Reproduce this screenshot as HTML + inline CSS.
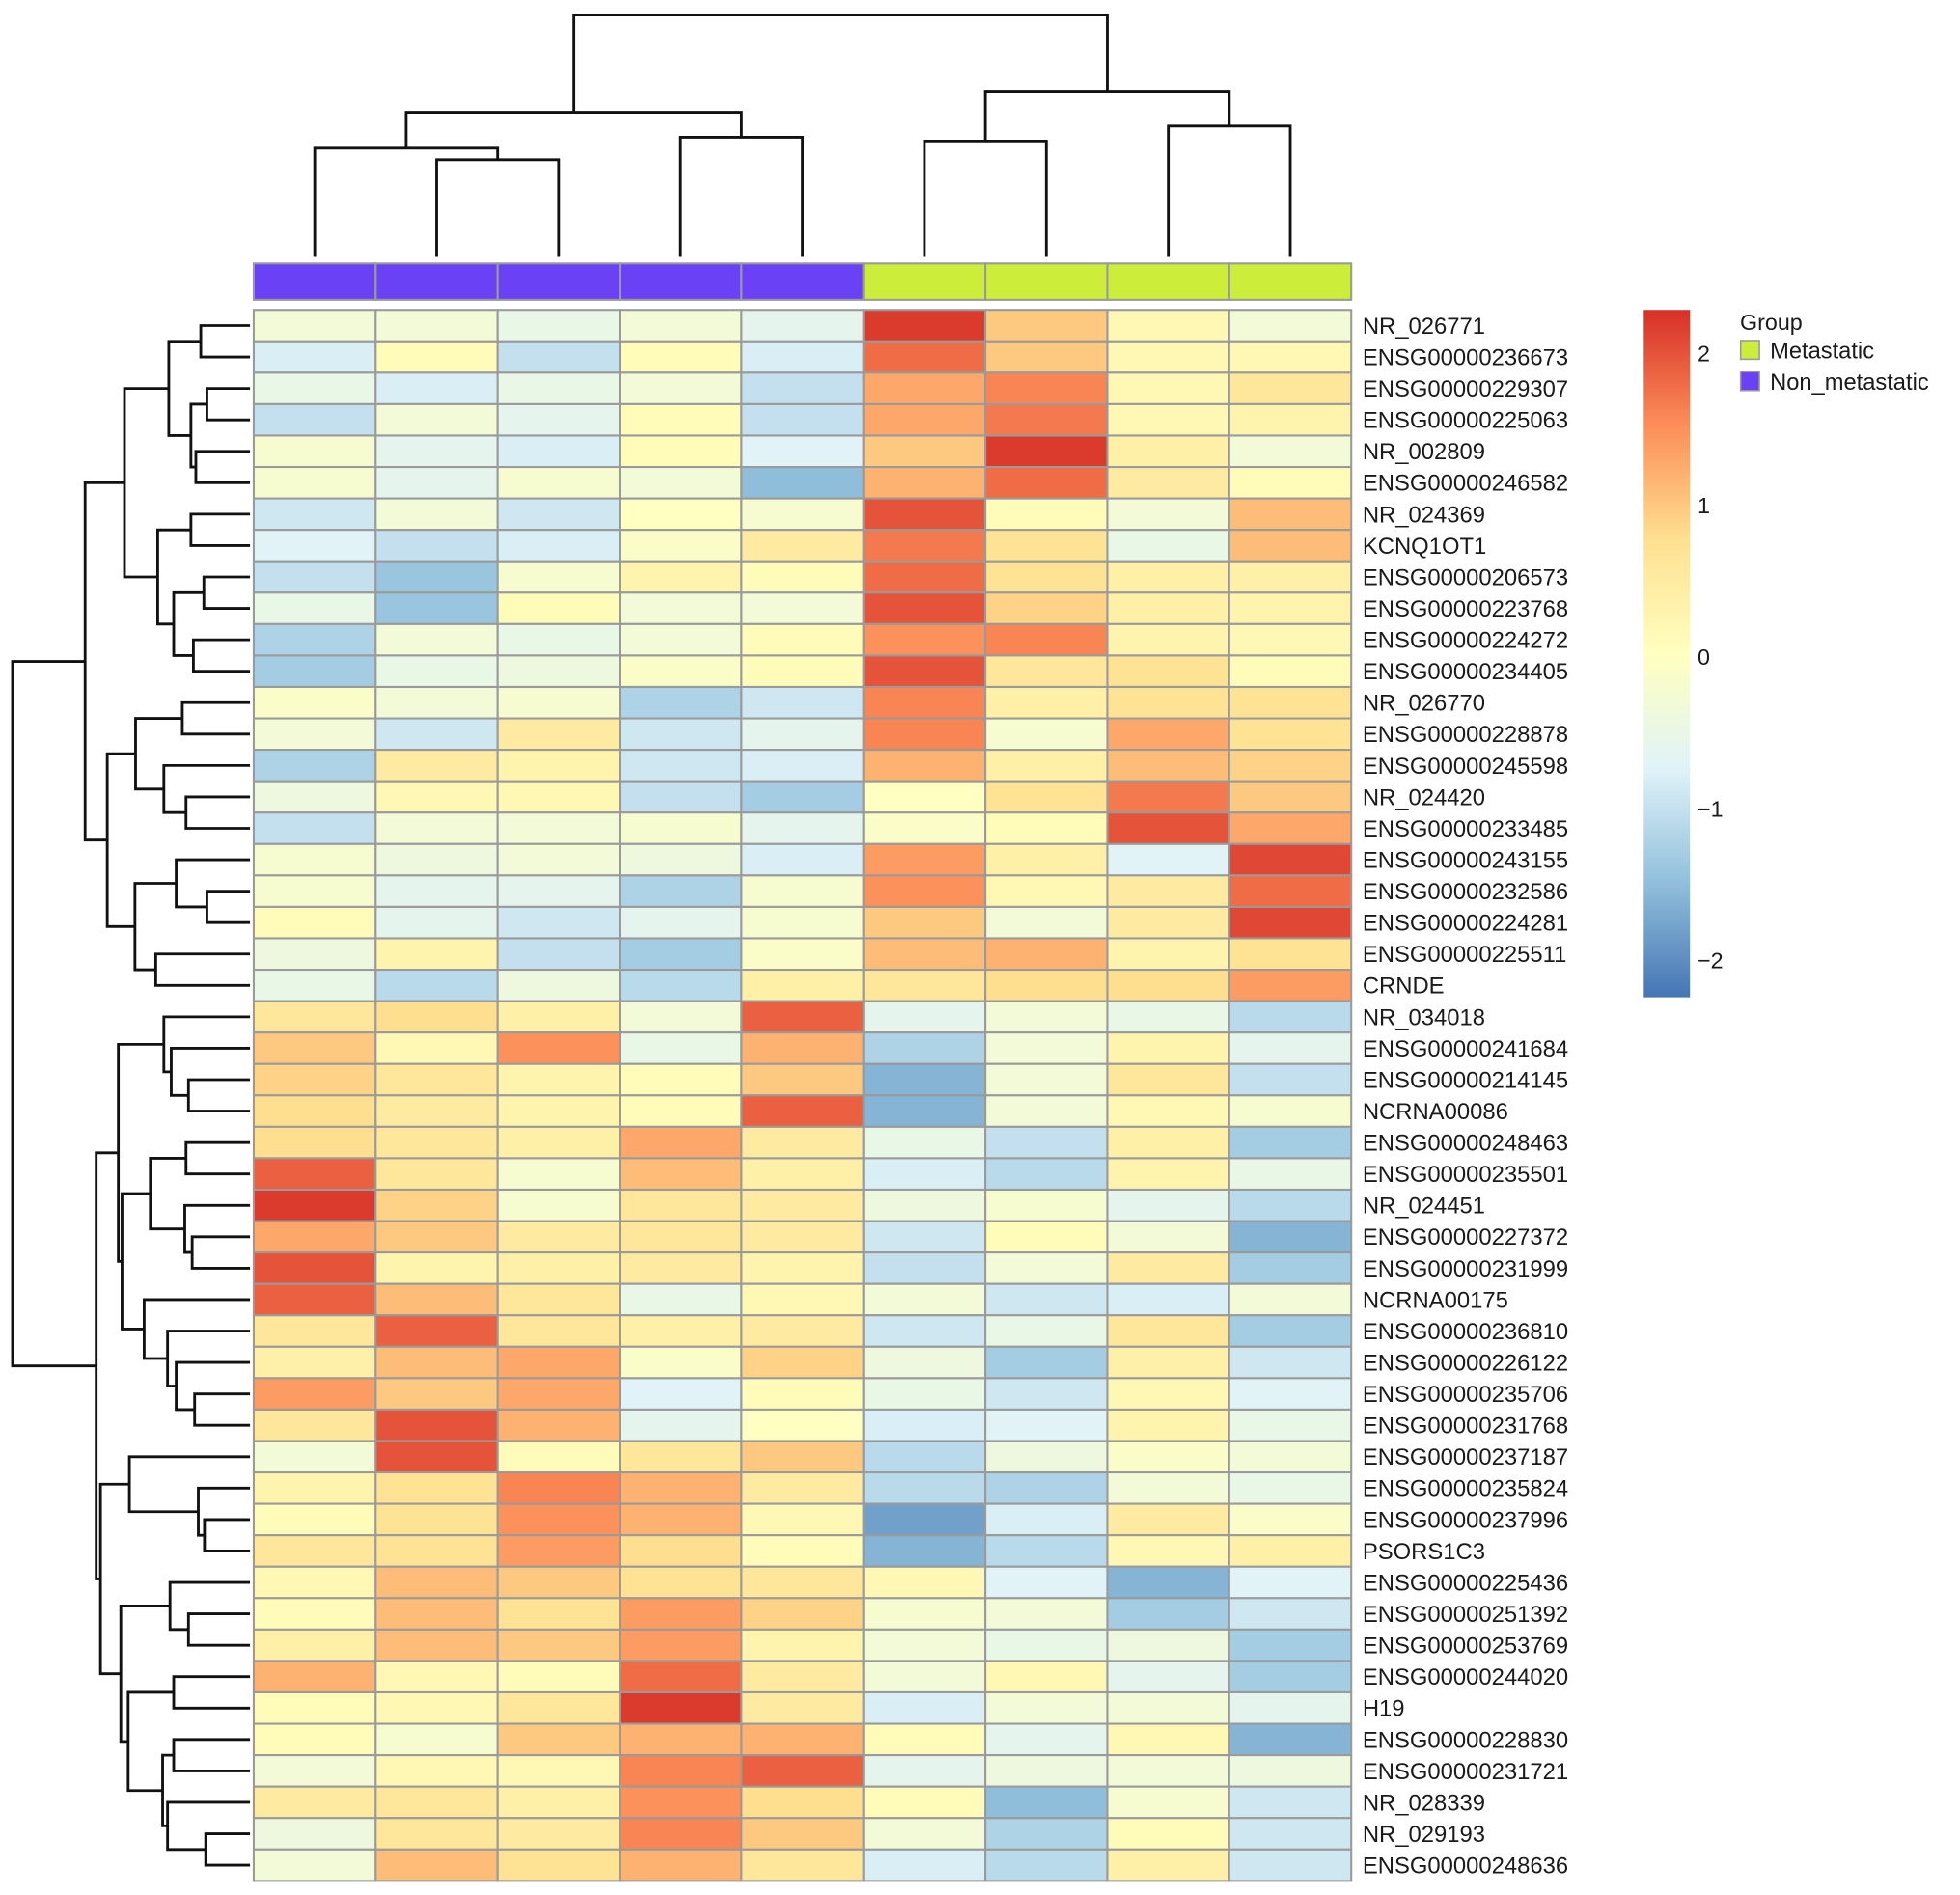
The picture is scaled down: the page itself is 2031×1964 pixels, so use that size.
<!DOCTYPE html>
<html><head><meta charset="utf-8"><title>Heatmap</title>
<style>html,body{margin:0;padding:0;background:#fff;}svg{display:block;}text{font-family:"Liberation Sans",Arial,sans-serif;fill:#1a1a1a;}</style>
</head><body>
<svg id="chart" width="2031" height="1964" viewBox="0 0 1568 1516.3" xmlns="http://www.w3.org/2000/svg">
<defs><linearGradient id="cbar" x1="0" y1="1" x2="0" y2="0">
<stop offset="0" stop-color="#4575B4"/><stop offset="0.1667" stop-color="#91BFDB"/><stop offset="0.3333" stop-color="#E0F3F8"/><stop offset="0.5" stop-color="#FFFFBF"/><stop offset="0.6667" stop-color="#FEE090"/><stop offset="0.8333" stop-color="#FC8D59"/><stop offset="1" stop-color="#D73027"/></linearGradient></defs>
<g id="rowdend"></g>
<g id="coldend"></g>
<g id="annot"></g>
<g id="cells"></g>
<g id="labels"></g>
<g>
<rect x="1315" y="248" width="37" height="550" fill="url(#cbar)"/>
<g id="cticks"></g>
</g>
<g>
<text x="1392" y="264" font-size="18">Group</text>
<rect x="1392.5" y="272.5" width="15" height="15" fill="#CCEE3A" stroke="#999" stroke-width="1.2"/>
<text x="1416" y="287" font-size="18.3">Metastatic</text>
<rect x="1392.5" y="297.5" width="15" height="15" fill="#6B41F5" stroke="#999" stroke-width="1.2"/>
<text x="1416" y="312" font-size="18.3">Non_metastatic</text>
</g>
</svg>
<script>
const rowLabels = ["NR_026771","ENSG00000236673","ENSG00000229307","ENSG00000225063","NR_002809","ENSG00000246582","NR_024369","KCNQ1OT1","ENSG00000206573","ENSG00000223768","ENSG00000224272","ENSG00000234405","NR_026770","ENSG00000228878","ENSG00000245598","NR_024420","ENSG00000233485","ENSG00000243155","ENSG00000232586","ENSG00000224281","ENSG00000225511","CRNDE","NR_034018","ENSG00000241684","ENSG00000214145","NCRNA00086","ENSG00000248463","ENSG00000235501","NR_024451","ENSG00000227372","ENSG00000231999","NCRNA00175","ENSG00000236810","ENSG00000226122","ENSG00000235706","ENSG00000231768","ENSG00000237187","ENSG00000235824","ENSG00000237996","PSORS1C3","ENSG00000225436","ENSG00000251392","ENSG00000253769","ENSG00000244020","H19","ENSG00000228830","ENSG00000231721","NR_028339","NR_029193","ENSG00000248636"];
const colGroups = ["Non_metastatic","Non_metastatic","Non_metastatic","Non_metastatic","Non_metastatic","Metastatic","Metastatic","Metastatic","Metastatic"];
const values = [
[-0.3,-0.3,-0.5,-0.3,-0.6,2.2,1.0,0.2,-0.3],
[-0.8,0.1,-1.0,0.1,-0.8,1.8,1.0,0.2,0.2],
[-0.5,-0.8,-0.5,-0.3,-1.0,1.3,1.6,0.2,0.6],
[-1.0,-0.3,-0.6,0.1,-1.0,1.3,1.7,0.2,0.3],
[-0.2,-0.6,-0.8,0.1,-0.7,1.0,2.2,0.4,-0.3],
[-0.2,-0.6,-0.2,-0.3,-1.5,1.2,1.8,0.5,0.1],
[-0.9,-0.3,-0.9,0.0,-0.2,2.0,0.1,-0.3,1.1],
[-0.7,-1.0,-0.8,-0.1,0.5,1.7,0.7,-0.5,1.1],
[-1.0,-1.4,-0.2,0.3,0.1,1.8,0.7,0.4,0.4],
[-0.5,-1.4,0.1,-0.3,-0.3,2.0,0.9,0.4,0.3],
[-1.2,-0.3,-0.5,-0.3,0.1,1.5,1.6,0.3,0.2],
[-1.3,-0.5,-0.4,-0.1,0.1,2.0,0.6,0.7,0.1],
[-0.1,-0.3,-0.2,-1.2,-0.9,1.6,0.4,0.7,0.7],
[-0.3,-0.9,0.5,-0.9,-0.6,1.6,-0.2,1.3,0.7],
[-1.2,0.5,0.3,-0.9,-0.8,1.2,0.4,1.1,0.9],
[-0.4,0.2,0.2,-1.0,-1.3,0.0,0.7,1.7,1.0],
[-1.0,-0.3,-0.3,-0.2,-0.6,-0.1,0.1,2.0,1.3],
[-0.2,-0.4,-0.3,-0.4,-0.8,1.4,0.4,-0.7,2.1],
[-0.2,-0.6,-0.6,-1.2,-0.2,1.5,0.2,0.5,1.8],
[0.1,-0.6,-0.9,-0.6,-0.2,1.0,-0.3,0.5,2.1],
[-0.4,0.3,-1.0,-1.3,-0.1,1.1,1.2,0.3,0.7],
[-0.5,-1.1,-0.4,-1.1,0.4,0.6,0.8,0.8,1.4],
[0.6,0.8,0.4,-0.3,1.9,-0.6,-0.3,-0.5,-1.1],
[1.0,0.2,1.5,-0.5,1.2,-1.2,-0.3,0.3,-0.6],
[0.9,0.6,0.3,0.1,1.0,-1.6,-0.3,0.6,-1.0],
[0.8,0.5,0.3,0.1,1.9,-1.6,-0.3,0.2,-0.2],
[0.8,0.6,0.4,1.3,0.5,-0.5,-1.0,0.4,-1.3],
[1.9,0.6,-0.2,1.1,0.4,-0.8,-1.1,0.3,-0.5],
[2.2,0.9,-0.2,0.6,0.5,-0.4,-0.2,-0.6,-1.1],
[1.3,1.0,0.5,0.6,0.5,-0.9,0.1,-0.3,-1.6],
[2.0,0.3,0.4,0.5,0.3,-1.0,-0.3,0.5,-1.3],
[1.9,1.1,0.6,-0.5,0.2,-0.3,-0.9,-0.8,-0.3],
[0.6,1.9,0.6,0.4,0.5,-0.9,-0.5,0.6,-1.3],
[0.4,1.1,1.3,-0.1,0.9,-0.4,-1.3,0.4,-0.9],
[1.4,1.0,1.3,-0.7,0.1,-0.5,-0.9,0.2,-0.7],
[0.6,2.0,1.2,-0.6,0.0,-0.8,-0.7,0.3,-0.5],
[-0.3,2.0,0.1,0.6,1.0,-1.1,-0.4,-0.1,-0.3],
[0.3,0.7,1.6,1.2,0.5,-1.1,-1.2,-0.3,-0.5],
[0.1,0.7,1.5,1.2,0.2,-1.8,-0.8,0.5,-0.1],
[0.6,0.7,1.4,0.8,0.1,-1.6,-1.1,0.2,0.4],
[0.2,1.1,1.0,0.7,0.6,0.2,-0.7,-1.6,-0.7],
[0.1,1.1,0.7,1.4,0.9,-0.2,-0.3,-1.3,-0.9],
[0.4,1.1,1.0,1.4,0.3,-0.3,-0.5,-0.4,-1.3],
[1.2,0.2,0.1,1.8,0.5,-0.3,0.2,-0.6,-1.3],
[0.1,0.2,0.6,2.2,0.5,-0.8,-0.3,-0.3,-0.6],
[0.1,-0.2,1.0,1.2,1.2,0.1,-0.6,0.2,-1.6],
[-0.3,0.2,0.2,1.6,1.9,-0.6,-0.4,-0.3,-0.4],
[0.5,0.6,0.4,1.5,0.8,0.1,-1.5,-0.2,-0.9],
[-0.4,0.6,0.5,1.6,1.0,-0.3,-1.2,0.1,-0.9],
[-0.3,1.1,0.7,1.2,0.6,-0.8,-1.1,0.4,-0.9]
];
const colorTicks = [2,1,0,-1,-2];
const colorTickLabels = ["2","1","0","\u22121","\u22122"];
// merges: [left, right, height]; leaf = index>=0, merge k = -(k+1)
const rowMerges = [
[0,1,40],[2,3,35],[4,5,44],[-2,-3,48],[-1,-4,66],
[6,7,48],[8,9,37.5],[10,11,46],[-7,-8,62],[-6,-9,75],[-5,-10,102],
[12,13,55],[15,16,52],[14,-13,70],[-12,-14,93],
[18,19,35],[17,-16,60],[20,21,76.6],[-17,-18,93.5],[-15,-19,116],[-11,-20,134],
[24,25,50],[23,-22,64],[22,-23,70],
[26,27,52],[29,30,47],[28,-26,53],[-25,-27,81],
[34,35,45],[33,-29,60],[32,-30,67],[31,-31,86],[-28,-32,104],[-24,-33,107],
[38,39,37],[37,-35,42],[36,-36,98],
[41,42,50],[40,-38,65],[43,44,62],[45,46,62],[48,49,36],[47,-42,67],[-41,-43,71],[-40,-44,99],[-39,-45,105],[-37,-46,121.5],[-34,-47,125],
[-21,-48,193]
];
const colMerges = [[1,2,77],[0,-1,87],[3,4,95],[-2,-3,115],[5,6,92],[7,8,104],[-5,-6,132],[-4,-7,193]];

const NS="http://www.w3.org/2000/svg";
const X0=203,X1=1081,Y0=248,Y1=1505;
const nR=values.length,nC=colGroups.length;
const cw=(X1-X0)/nC,rh=(Y1-Y0)/nR;
const xCol=i=>X0+(i+0.5)*cw, yRow=i=>Y0+(i+0.5)*rh;
const VMIN=-2.24,VMAX=2.29;
const pal=[[0x45,0x75,0xB4],[0x91,0xBF,0xDB],[0xE0,0xF3,0xF8],[0xFF,0xFF,0xBF],[0xFE,0xE0,0x90],[0xFC,0x8D,0x59],[0xD7,0x30,0x27]];
function color(v){let t=(v-VMIN)/(VMAX-VMIN);t=Math.max(0,Math.min(1,t))*(pal.length-1);let i=Math.min(pal.length-2,Math.floor(t)),f=t-i;const c=pal[i].map((a,k)=>Math.round(a+(pal[i+1][k]-a)*f));return `rgb(${c[0]},${c[1]},${c[2]})`;}
function mk(tag,attrs,parent){const e=document.createElementNS(NS,tag);for(const k in attrs)e.setAttribute(k,attrs[k]);parent.appendChild(e);return e;}

const cells=document.getElementById('cells');
for(let r=0;r<nR;r++)for(let c=0;c<nC;c++){
 const e=mk('rect',{x:X0+c*cw,y:Y0+r*rh,width:cw,height:rh,fill:color(values[r][c]),stroke:'#9a9a9a','stroke-width':1.6},cells);
 
 
}
const labs=document.getElementById('labels');
rowLabels.forEach((l,r)=>{const t=mk('text',{x:1090,y:yRow(r)+6.5,'font-size':18.4},labs);t.textContent=l;
 
 });
const annot=document.getElementById('annot');
colGroups.forEach((g,c)=>{const e=mk('rect',{x:X0+c*cw,y:211,width:cw,height:29,fill:g==='Metastatic'?'#CCEE3A':'#6B41F5',stroke:'#9a9a9a','stroke-width':1.6},annot);
 
 });
const ct=document.getElementById('cticks');
const cy=v=>Y0+(VMAX-v)/(VMAX-VMIN)*550;
colorTicks.forEach((v,i)=>{const t=mk('text',{x:1358,y:cy(v)+6,'font-size':18},ct);t.textContent=colorTickLabels[i];
 
 });

function drawDend(merges,leafPos,hPos,g,horizontal){
 const pos=[],hh=[];
 const P=n=>n>=0?leafPos(n):pos[-n-1];
 const H=n=>n>=0?0:hh[-n-1];
 merges.forEach((m,k)=>{const a=P(m[0]),b=P(m[1]),h=m[2];
  let d;
  if(horizontal){d=`M${hPos(H(m[0]))},${a}H${hPos(h)}V${b}H${hPos(H(m[1]))}`;}
  else{d=`M${a},${hPos(H(m[0]))}V${hPos(h)}H${b}V${hPos(H(m[1]))}`;}
  const p=mk('path',{d:d,fill:'none',stroke:'#111','stroke-width':2.2},g);
  
  
  pos[k]=(a+b)/2;hh[k]=h;});
}
drawDend(rowMerges,yRow,h=>200-h*(190/193),document.getElementById('rowdend'),true);
drawDend(colMerges,xCol,h=>205-h*(193/193),document.getElementById('coldend'),false);
</script>
</body></html>
